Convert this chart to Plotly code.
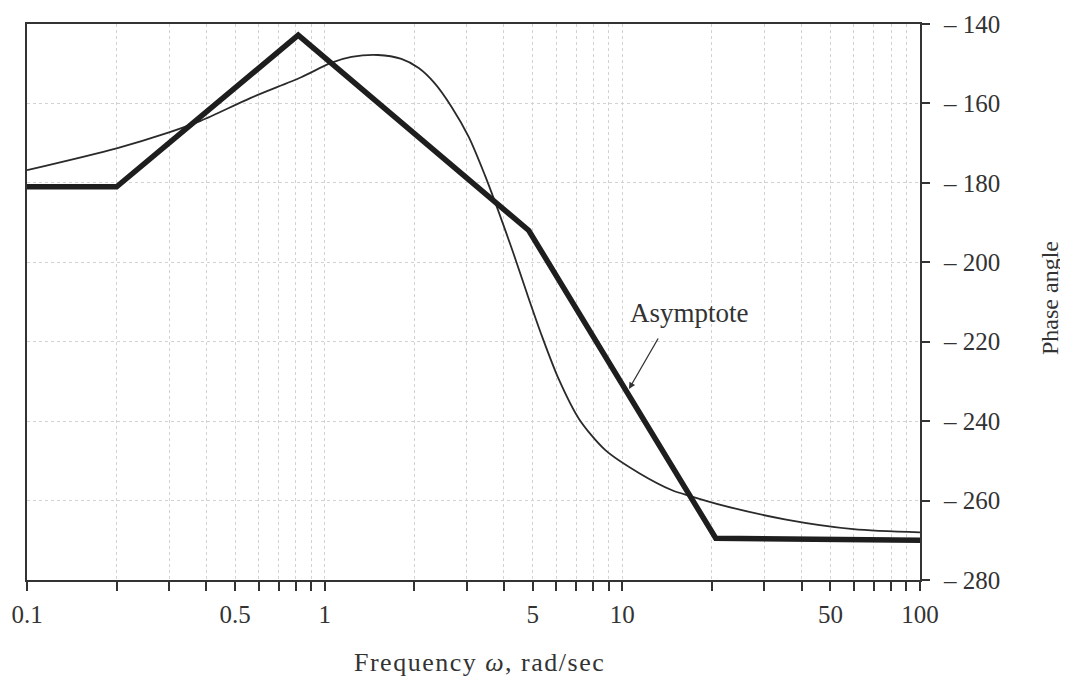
import plotly.graph_objects as go

# Asymptote (straight-line approximation)
asym_w = [0.1, 0.2, 0.815, 4.85, 20.6, 100]
asym_phase = [-181, -181, -142.8, -192, -269.5, -270]

# Exact phase curve
curve_w = [0.1, 0.2, 0.3, 0.383, 0.565, 0.834, 1.05, 1.23, 1.51, 1.81, 2.07, 2.34, 2.67,
           3.05, 3.45, 3.85, 4.3, 4.79, 5.37, 6.12, 7.16, 8.77, 11.4, 14.7, 16.8, 21.7,
           35.5, 59.7, 100]
curve_phase = [-176.8, -171.3, -167.3, -164.4, -158.6, -153.4, -149.8, -148.3, -147.8, -148.8,
               -151.1, -154.9, -160.9, -168.5, -178.0, -187.5, -197.6, -208.0, -218.6, -229.5,
               -239.5, -247.3, -253.1, -257.4, -258.8, -261.2, -264.8, -267.2, -268]

x_tickvals = [0.1, 0.2, 0.3, 0.4, 0.5, 0.6, 0.7, 0.8, 0.9,
              1, 2, 3, 4, 5, 6, 7, 8, 9,
              10, 20, 30, 40, 50, 60, 70, 80, 90, 100]
x_labeled = {0.1: "0.1", 0.5: "0.5", 1: "1", 5: "5", 10: "10", 50: "50", 100: "100"}
x_ticktext = [x_labeled.get(v, "") for v in x_tickvals]

y_tickvals = [-140, -160, -180, -200, -220, -240, -260, -280]
y_ticktext = ["\u2013 " + str(-v) for v in y_tickvals]

FONT = "Liberation Serif, Times New Roman, serif"
TXT = "#333333"

fig = go.Figure()
fig.add_trace(go.Scatter(x=curve_w, y=curve_phase, mode="lines",
                         line=dict(color="#2a2a2a", width=1.8, shape="spline", smoothing=0.8),
                         showlegend=False, hoverinfo="skip"))
fig.add_trace(go.Scatter(x=asym_w, y=asym_phase, mode="lines",
                         line=dict(color="#1e1e1e", width=5.5),
                         showlegend=False, hoverinfo="skip"))

fig.update_layout(
    width=1060, height=676,
    margin=dict(l=19, r=148, t=16, b=104),
    paper_bgcolor="white", plot_bgcolor="white",
    font=dict(family=FONT, size=20, color=TXT),
    xaxis=dict(type="log", range=[-1, 2], tickvals=x_tickvals, ticktext=x_ticktext,
               ticks="outside", ticklen=9, tickwidth=1.5, tickcolor="#333",
               showline=True, linecolor="#333", linewidth=2, mirror=True,
               showgrid=True, gridcolor="#d2d2d2", griddash="dot", gridwidth=1,
               zeroline=False, ticklabelstandoff=2, automargin=False,
               tickfont=dict(family=FONT, size=25, color=TXT)),
    yaxis=dict(range=[-280, -140], side="right", tickvals=y_tickvals, ticktext=y_ticktext,
               ticks="outside", ticklen=8, tickwidth=1.5, tickcolor="#333",
               showline=True, linecolor="#333", linewidth=2, mirror=True,
               showgrid=True, gridcolor="#d2d2d2", griddash="dot", gridwidth=1,
               zeroline=False, ticklabelstandoff=9, automargin=False,
               tickfont=dict(family=FONT, size=25, color=TXT)),
    annotations=[
        dict(text="<span style='letter-spacing:1.5px'>Frequency <i>\u03c9</i>, rad/sec</span>",
             xref="paper", yref="paper", x=0.507, y=-0.1475,
             xanchor="center", yanchor="middle", showarrow=False,
             font=dict(family=FONT, size=26, color=TXT)),
        dict(text="Phase angle", xref="paper", yref="paper", x=(1050 - 27) / 893, y=1 - (298 - 24) / 556,
             xanchor="center", yanchor="middle", textangle=-90, showarrow=False,
             font=dict(family=FONT, size=24, color=TXT)),
        dict(text="Asymptote", xref="paper", yref="paper",
             x=(689 - 27) / 893, y=1 - (313 - 24) / 556,
             xanchor="center", yanchor="middle", showarrow=False,
             font=dict(family=FONT, size=27, color=TXT)),
        dict(text="", xref="paper", yref="paper",
             x=(629 - 27) / 893, y=1 - (389 - 24) / 556,
             axref="pixel", ayref="pixel", ax=30, ay=-52,
             showarrow=True, arrowhead=2, arrowsize=1, arrowwidth=1.3, arrowcolor="#333",
             standoff=0),
    ],
)

fig.write_html("out.html")
